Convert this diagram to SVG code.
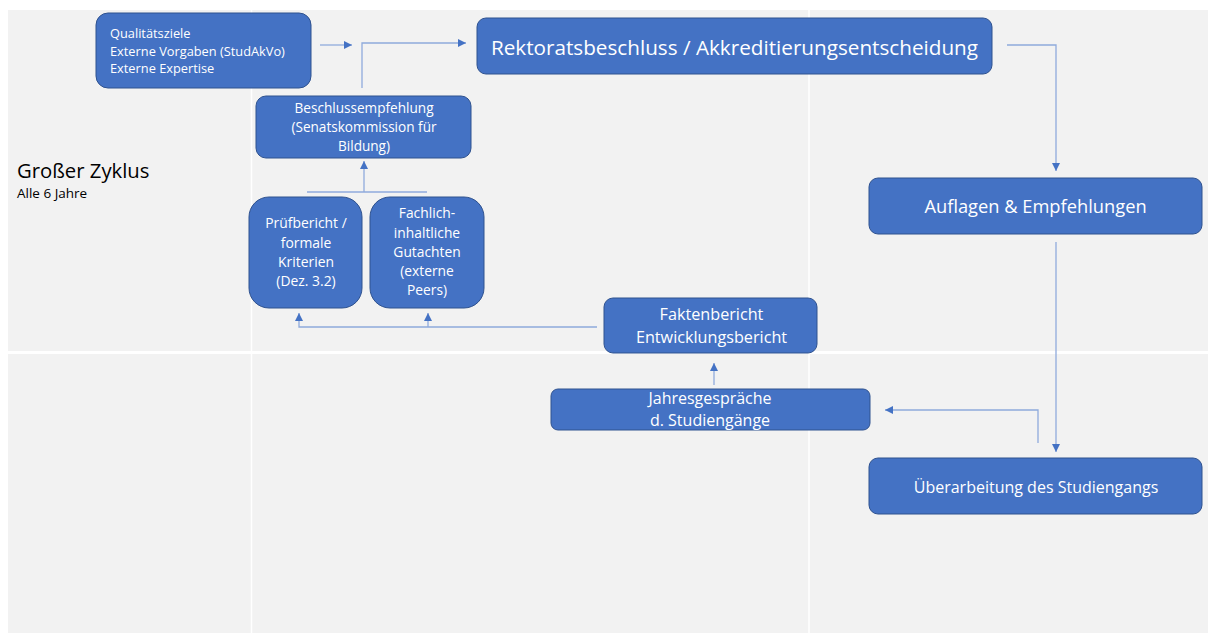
<svg xmlns="http://www.w3.org/2000/svg" width="1208" height="633" viewBox="0 0 1208 633">
<style>
.node{fill:#4472C4;stroke:#2F528F;stroke-width:1}
.t{fill:#FFFFFF;font-family:"Open Sans","Liberation Sans",Arial,sans-serif;text-anchor:middle}
.tl{fill:#FFFFFF;font-family:"Open Sans","Liberation Sans",Arial,sans-serif}
.lbl{fill:#000000;font-family:"Open Sans","Liberation Sans",Arial,sans-serif}
.c{fill:none;stroke:#8FAADC;stroke-width:1.3}
</style>
<defs>
<marker id="ah" markerWidth="10" markerHeight="10" refX="9" refY="5" orient="auto" markerUnits="userSpaceOnUse">
<path d="M1,1 L9,5 L1,9 Z" fill="#4472C4"/>
</marker>
</defs>
<rect x="0" y="0" width="1208" height="633" fill="#FFFFFF"/>
<g id="background">
<rect x="8" y="10" width="1200" height="623" fill="#F2F2F2"/>
<rect x="8" y="351" width="1200" height="3" fill="#FFFFFF"/>
<line x1="251.5" y1="10" x2="251.5" y2="633" stroke="#FFFFFF" stroke-width="1.5"/>
<line x1="809" y1="10" x2="809" y2="633" stroke="#FFFFFF" stroke-width="1.5"/>
</g>
<g id="title">
<text class="lbl" x="17" y="178" font-size="20.3">Großer Zyklus</text>
<text class="lbl" x="17" y="198" font-size="13.5">Alle 6 Jahre</text>
</g>
<g id="connectors">
<line class="c" x1="320" y1="45" x2="352" y2="45" marker-end="url(#ah)"/>
<polyline class="c" points="362,88 362,43 466,43" marker-end="url(#ah)"/>
<polyline class="c" points="1007,45 1056,45 1056,171" marker-end="url(#ah)"/>
<line class="c" x1="1056" y1="242" x2="1056" y2="452" marker-end="url(#ah)"/>
<polyline class="c" points="1038,443 1038,410 885,410" marker-end="url(#ah)"/>
<line class="c" x1="714" y1="385" x2="714" y2="363" marker-end="url(#ah)"/>
<polyline class="c" points="597,327 299,327 299,313" marker-end="url(#ah)"/>
<line class="c" x1="428" y1="327" x2="428" y2="313" marker-end="url(#ah)"/>
<line class="c" x1="307" y1="192" x2="427" y2="192"/>
<line class="c" x1="364" y1="192" x2="364" y2="161" marker-end="url(#ah)"/>
</g>
<g id="node-qualitaetsziele">
<rect class="node" x="96" y="13" width="215" height="75" rx="12"/>
<text class="tl" font-size="12.8" x="110" y="38">Qualitätsziele</text>
<text class="tl" font-size="12.8" x="110" y="56">Externe Vorgaben (StudAkVo)</text>
<text class="tl" font-size="12.8" x="110" y="73">Externe Expertise</text>
</g>
<g id="node-rektorat">
<rect class="node" x="477" y="18" width="515" height="56" rx="9"/>
<text class="t" font-size="20.7" x="734.5" y="55">Rektoratsbeschluss / Akkreditierungsentscheidung</text>
</g>
<g id="node-beschlussempfehlung">
<rect class="node" x="256" y="96" width="215" height="62" rx="10"/>
<text class="t" font-size="13.6" x="364" y="113">Beschlussempfehlung</text>
<text class="t" font-size="13.6" x="364" y="132">(Senatskommission für</text>
<text class="t" font-size="13.6" x="364" y="151">Bildung)</text>
</g>
<g id="node-pruefbericht">
<rect class="node" x="249" y="197" width="113" height="111" rx="20"/>
<text class="t" font-size="13.9" x="306" y="228">Prüfbericht /</text>
<text class="t" font-size="13.9" x="306" y="248">formale</text>
<text class="t" font-size="13.9" x="306" y="267">Kriterien</text>
<text class="t" font-size="13.9" x="306" y="286">(Dez. 3.2)</text>
</g>
<g id="node-gutachten">
<rect class="node" x="370" y="197" width="114" height="111" rx="20"/>
<text class="t" font-size="13.8" x="427" y="218">Fachlich-</text>
<text class="t" font-size="13.8" x="427" y="238">inhaltliche</text>
<text class="t" font-size="13.8" x="427" y="257">Gutachten</text>
<text class="t" font-size="13.8" x="427" y="276">(externe</text>
<text class="t" font-size="13.8" x="427" y="295">Peers)</text>
</g>
<g id="node-faktenbericht">
<rect class="node" x="604" y="298" width="213" height="55" rx="9"/>
<text class="t" font-size="16.2" x="711.5" y="320">Faktenbericht</text>
<text class="t" font-size="16.2" x="711.5" y="343">Entwicklungsbericht</text>
</g>
<g id="node-jahresgespraeche">
<rect class="node" x="551" y="389" width="319" height="41" rx="7"/>
<text class="t" font-size="16" x="710" y="404">Jahresgespräche</text>
<text class="t" font-size="16" x="710" y="426">d. Studiengänge</text>
</g>
<g id="node-auflagen">
<rect class="node" x="869" y="178" width="333" height="56" rx="9"/>
<text class="t" font-size="18.3" x="1035.5" y="213">Auflagen &amp; Empfehlungen</text>
</g>
<g id="node-ueberarbeitung">
<rect class="node" x="869" y="458" width="333" height="56" rx="9"/>
<text class="t" font-size="16" x="1036" y="493">Überarbeitung des Studiengangs</text>
</g>
</svg>
